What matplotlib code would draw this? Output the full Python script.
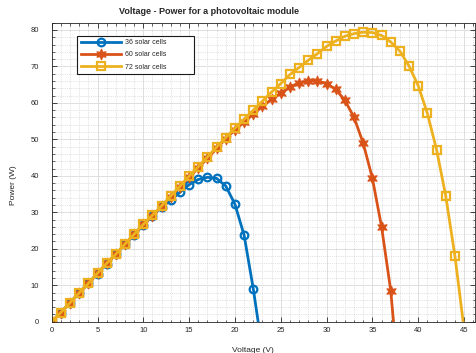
import numpy as np
import matplotlib
matplotlib.use('Agg')
import matplotlib.pyplot as plt
from matplotlib.ticker import MultipleLocator

plt.rcParams['font.family'] = ['Liberation Sans', 'DejaVu Sans']

## voltage (V) and power (W)
v_36 = list(range(0, 24))
p_36 = [0, 2.5, 5.2, 7.9, 10.5, 13.2, 15.9, 18.5, 21.2, 23.8, 26.5, 29.1,
        31.5, 33.3, 35.5, 37.6, 39.0, 39.6, 39.3, 37.2, 32.2, 23.7, 9.0, -8.0]

v_60 = list(range(0, 39))
p_60 = [0, 2.5, 5.2, 7.9, 10.5, 13.3, 16.0, 18.5, 21.3, 24.0, 26.7, 29.1,
        31.7, 34.3, 37.0, 39.6, 42.2, 44.8, 47.5, 50.2, 52.6, 54.8, 56.9,
        59.1, 61.0, 62.7, 64.4, 65.5, 66.0, 66.0, 65.3, 63.7, 60.7, 56.0,
        48.9, 39.3, 26.0, 8.5, -20.0]

v_72 = list(range(0, 46))
p_72 = [0, 2.5, 5.2, 7.9, 10.5, 13.3, 16.0, 18.5, 21.3, 24.0, 26.7, 29.2,
        31.8, 34.5, 37.2, 39.9, 42.5, 45.2, 47.9, 50.5, 53.1, 55.5, 58.0,
        60.5, 63.0, 65.3, 67.8, 69.7, 71.7, 73.5, 75.5, 77.0, 78.3, 79.0,
        79.4, 79.3, 78.5, 76.7, 74.2, 70.1, 64.7, 57.1, 47.2, 34.5, 18.1, -2.0]

labels = ['36 solar cells', '60 solar cells', '72 solar cells']
colors = ['#0072BD', '#D95319', '#EDB120']

txt = '#262626'
fig = plt.figure(figsize=(4.76, 3.53), dpi=100)
ax = fig.add_axes([0.1086, 0.0887, 0.8894, 0.847])

ax.plot(v_36, p_36, '-o', color=colors[0], lw=2, ms=5.5, mfc='none', mew=1.6, label=labels[0])
ax.plot(v_60, p_60, '-', marker=(6, 1, 0), color=colors[1], lw=2, ms=8, mew=0.6, label=labels[1])
ax.plot(v_72, p_72, '-s', color=colors[2], lw=2, ms=5.5, mfc='none', mew=1.6, label=labels[2])

ax.set_xlim(0, 46.2)
ax.set_ylim(0, 82)
ax.xaxis.set_major_locator(MultipleLocator(5))
ax.xaxis.set_minor_locator(MultipleLocator(1))
ax.yaxis.set_major_locator(MultipleLocator(10))
ax.yaxis.set_minor_locator(MultipleLocator(2))
ax.grid(which='major', color='#dedede', lw=0.7, ls='-')
ax.grid(which='minor', color='#c8c8c8', lw=0.5, ls=':')
ax.set_axisbelow(True)

ax.tick_params(which='both', direction='in', top=True, right=True, colors=txt, labelsize=5.5)
ax.tick_params(which='major', length=3.5, width=0.6)
ax.tick_params(which='minor', length=1.8, width=0.5)
ax.tick_params(axis='y', pad=9)
ax.tick_params(axis='x', pad=4)
for s in ax.spines.values():
    s.set_color(txt)
    s.set_linewidth(0.6)

ax.set_xlabel('Voltage (V)', fontsize=6, color=txt)
ax.xaxis.set_label_coords(252.5 / 476, 1 - 346.7 / 353, transform=fig.transFigure)
ax.set_ylabel('Power (W)', fontsize=6, color=txt)
ax.yaxis.set_label_coords(17 / 476, 1 - 184.7 / 353, transform=fig.transFigure)

fig.text(209 / 476, 1 - 11.5 / 353, 'Voltage - Power for a photovoltaic module',
         fontsize=6.5, fontweight='bold', color=txt, ha='center', va='center')

leg = ax.legend(loc='upper left', bbox_to_anchor=(74 / 476, 1 - 32.3 / 353),
                bbox_transform=fig.transFigure, fontsize=5, handlelength=5.8,
                labelspacing=0.75, borderpad=0.5, handletextpad=0.5,
                fancybox=False, framealpha=1, edgecolor='#1a1a1a')
leg.get_frame().set_linewidth(0.8)
for t in leg.get_texts():
    t.set_color(txt)
    t.set_text(t.get_text() + '\u00a0' * 12)

fig.savefig('out.png', dpi=100)
